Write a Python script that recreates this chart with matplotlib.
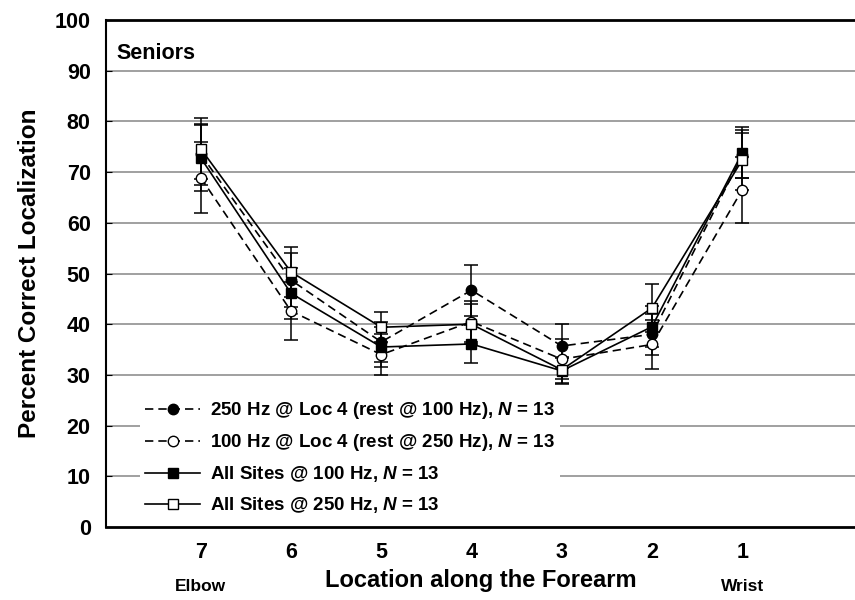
import matplotlib
matplotlib.use("Agg")
import matplotlib.pyplot as plt
import numpy as np

plt.rcParams['font.family'] = ['Liberation Sans', 'DejaVu Sans']
plt.rcParams['font.weight'] = 'bold'
plt.rcParams['mathtext.fontset'] = 'custom'
plt.rcParams['mathtext.bfit'] = 'Liberation Sans:bold:italic'

locations = ["7", "6", "5", "4", "3", "2", "1"]
x = np.arange(1, 8)

# 250 Hz @ Loc 4 (rest @ 100 Hz)
loc4_250 = [73.5, 48.7, 36.5, 46.7, 35.7, 38.0, 73.3]
loc4_250_err = [6.0, 5.3, 4.0, 5.0, 4.3, 4.0, 4.5]
# 100 Hz @ Loc 4 (rest @ 250 Hz)
loc4_100 = [68.9, 42.6, 34.0, 40.5, 33.1, 36.0, 66.5]
loc4_100_err = [7.0, 5.7, 4.0, 4.0, 4.0, 4.8, 6.5]
# All Sites @ 100 Hz
all_100 = [72.8, 46.1, 35.5, 36.1, 30.8, 39.5, 73.8]
all_100_err = [6.5, 5.0, 4.0, 3.8, 2.5, 4.0, 5.0]
# All Sites @ 250 Hz
all_250 = [74.6, 50.3, 39.4, 40.0, 31.0, 43.2, 72.4]
all_250_err = [6.0, 5.0, 3.0, 4.0, 2.5, 4.8, 6.0]

fig = plt.figure(figsize=(8.55, 6), dpi=100)
ax = fig.add_axes([106/855, 73/600, 749/855, 507/600])

ax.set_xlim(-0.05, 8.25)
ax.set_ylim(0, 100)
ax.set_yticks(range(0, 101, 10))
for yv in range(10, 100, 10):
    ax.axhline(yv, color='#999999', lw=1.3, zorder=0)

dash = (0, (5, 3))
kw = dict(color='black', lw=1.2, ms=7.5, capsize=5, elinewidth=1.1, capthick=1.1)
series = [
    (loc4_250, loc4_250_err, 'o', 'black', dash,
     r'250 Hz @ Loc 4 (rest @ 100 Hz), $\mathbfit{N}$ = 13'),
    (loc4_100, loc4_100_err, 'o', 'white', dash,
     r'100 Hz @ Loc 4 (rest @ 250 Hz), $\mathbfit{N}$ = 13'),
    (all_100, all_100_err, 's', 'black', '-',
     r'All Sites @ 100 Hz, $\mathbfit{N}$ = 13'),
    (all_250, all_250_err, 's', 'white', '-',
     r'All Sites @ 250 Hz, $\mathbfit{N}$ = 13'),
]
handles = []
for vals, err, m, fc, ls, lab in series:
    eb = ax.errorbar(x, vals, yerr=err, marker=m, mfc=fc, mec='black',
                     ls=ls, label=lab, zorder=3, **kw)
    handles.append(eb[0])

leg = ax.legend(handles=handles, labels=[s[5] for s in series],
                loc='lower left', bbox_to_anchor=(0.04, 0.005),
                fontsize=13.5, frameon=True, framealpha=1, facecolor='white',
                edgecolor='none', handlelength=2.9, labelspacing=0.58,
                handletextpad=0.55, borderpad=0.3, borderaxespad=0.2)

ax.text(0.014, 0.955, 'Seniors', transform=ax.transAxes, fontsize=15.5,
        fontweight='bold', va='top', ha='left')

ax.set_xticks(x)
ax.set_xticklabels(locations, fontsize=15.5, fontweight='bold')
ax.tick_params(axis='x', length=0, pad=11)
ax.tick_params(axis='y', direction='in', length=4, labelsize=15.5, pad=11)
for lab in ax.get_yticklabels():
    lab.set_fontweight('bold')

ax.set_ylabel('Percent Correct Localization', fontsize=17.5, fontweight='bold', labelpad=10)
ax.set_xlabel('Location along the Forearm', fontsize=17, fontweight='bold', labelpad=4)

ax.text(1, -0.103, 'Elbow', transform=ax.get_xaxis_transform(), ha='center',
        va='top', fontsize=12.5, fontweight='bold')
ax.text(7, -0.103, 'Wrist', transform=ax.get_xaxis_transform(), ha='center',
        va='top', fontsize=12.5, fontweight='bold')

ax.spines['right'].set_visible(False)
ax.spines['top'].set_linewidth(2)
ax.spines['bottom'].set_linewidth(2)
ax.spines['left'].set_linewidth(1.5)

fig.savefig('out.png', dpi=100)
